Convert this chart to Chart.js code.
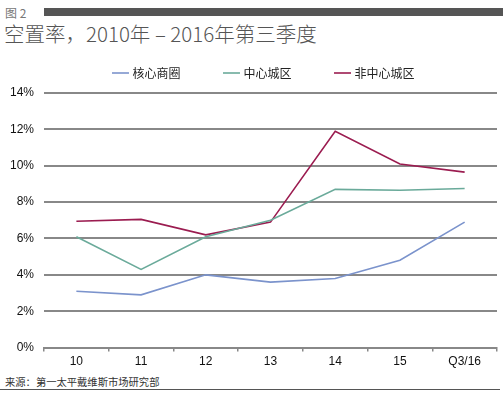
<!DOCTYPE html>
<html>
<head>
<meta charset="utf-8">
<script src="https://cdn.jsdelivr.net/npm/chart.js"></script>
<style>
  body { margin: 0; background: #fff; }
  #wrap { position: relative; width: 503px; height: 394px; overflow: hidden; font-family: "Noto Sans CJK SC", sans-serif; }
  #fig { position: absolute; left: 5px; top: 4px; font-size: 12px; color: #777; }
  #bar { position: absolute; left: 44px; top: 8px; width: 459px; height: 8px; background: #555; }
  #title { position: absolute; left: 4px; top: 18px; font-size: 20.5px; font-weight: 300; color: #555; white-space: nowrap; }
  #src { position: absolute; left: 5px; top: 374px; font-size: 10.3px; color: #333; }
  #rule { position: absolute; left: 0; top: 389px; width: 500px; height: 1px; background: #555; }
  #box { position: absolute; left: 0; top: 22px; width: 503px; height: 350px; }
</style>
</head>
<body>
<div id="wrap">
  <div id="fig">图 2</div>
  <div id="bar"></div>
  <div id="title">空置率，2010年 – 2016年第三季度</div>
  <div id="box"><canvas id="c"></canvas></div>
  <div id="src">来源：第一太平戴维斯市场研究部</div>
  <div id="rule"></div>
</div>
<script>
const years = ["10", "11", "12", "13", "14", "15", "Q3/16"];
const coreCbd = [3.1, 2.9, 4.0, 3.6, 3.8, 4.8, 6.9];
const central = [6.1, 4.3, 6.1, 7.0, 8.7, 8.65, 8.75];
const nonCentral = [6.95, 7.05, 6.2, 6.9, 11.9, 10.1, 9.65];

const font = { family: "'Liberation Sans', Arial, sans-serif", size: 12 };

// extra room under the legend, and centre it over the plot instead of the canvas
const legendTweak = {
  id: "legendTweak",
  beforeInit(chart) {
    const fit = chart.legend.fit;
    chart.legend.fit = function () {
      fit.bind(chart.legend)();
      this.height += 4;
    };
  },
  afterLayout(chart) {
    chart.legend.left += 32;
  },
};

function series(label, data, color) {
  return {
    label,
    data,
    borderColor: color,
    backgroundColor: color,
    borderWidth: 1.6,
    pointRadius: 0,
    tension: 0,
  };
}

new Chart(document.getElementById("c"), {
  type: "line",
  data: {
    labels: years,
    datasets: [
      series("核心商圈", coreCbd, "#7b93cc"),
      series("中心城区", central, "#6aaa9a"),
      series("非中心城区", nonCentral, "#9b1c50"),
    ],
  },
  plugins: [legendTweak],
  options: {
    responsive: true,
    maintainAspectRatio: false,
    animation: false,
    layout: { padding: { left: 0, right: 6, top: 0, bottom: 0 } },
    plugins: {
      legend: {
        labels: {
          usePointStyle: true,
          pointStyle: "line",
          boxWidth: 13,
          padding: 45,
          color: "#222",
          font: { family: "'Noto Sans CJK SC', sans-serif", size: 12 },
        },
      },
      tooltip: { enabled: false },
    },
    scales: {
      x: {
        offset: true,
        grid: {
          offset: true,
          drawOnChartArea: false,
          drawTicks: true,
          tickLength: 4,
          color: "#888",
          lineWidth: 1.5,
        },
        border: { color: "#888", width: 2 },
        ticks: { color: "#111", font, padding: 3 },
      },
      y: {
        min: 0,
        max: 14,
        ticks: { stepSize: 2, color: "#111", font, padding: 10, callback: (v) => v + "%" },
        grid: { color: "#888", lineWidth: 2, drawTicks: false },
        border: { display: false },
      },
    },
  },
});
</script>
</body>
</html>
